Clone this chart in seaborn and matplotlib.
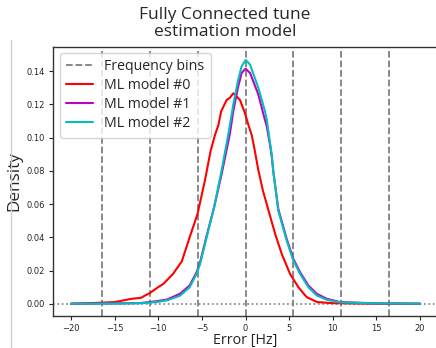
import numpy as np
import pandas as pd
import seaborn as sns
import matplotlib
matplotlib.use("Agg")
import matplotlib.pyplot as plt
from matplotlib.lines import Line2D

# ---- data ----
bin_edges = [-16.5, -11.0, -5.5, 0.0, 5.5, 11.0, 16.5]

x_m0 = [-20, -17, -15, -14, -13, -12, -11.5, -11, -10, -9.4, -8.3, -7.3, -6.4, -5.5,
        -4.64, -4.0, -3.5, -3.1, -2.8, -2.5, -2.16, -1.8, -1.4, -1.0, -0.63, -0.06,
        0.33, 0.71, 1.0, 1.47, 2.0, 2.43, 3.4, 4.15, 5.1, 6.05, 7.0, 8.2, 10, 13, 16, 20]
y_m0 = [0.0, 0.0005, 0.001, 0.002, 0.003, 0.0035, 0.005, 0.0063, 0.010, 0.012, 0.018,
        0.0255, 0.040, 0.054, 0.0745, 0.092, 0.1016, 0.1077, 0.1157, 0.119, 0.1227,
        0.124, 0.1267, 0.1247, 0.1227, 0.1147, 0.1077, 0.1016, 0.094, 0.0805, 0.068,
        0.060, 0.042, 0.030, 0.018, 0.010, 0.004, 0.001, 0.0003, 0.0001, 0.0, 0.0]

x_m1 = [-20, -15, -12, -10.2, -9, -7.5, -6.4, -5.6, -5.2, -4.45, -3.6, -2.7, -1.8, -1.4,
        -0.83, -0.44, 0.0, 0.52, 1.47, 2.16, 2.43, 2.8, 3.0, 3.2, 3.76, 4.72, 5.48,
        6.25, 7.2, 8.16, 9.3, 10.8, 15, 20]
y_m1 = [0.0, 0.0002, 0.0004, 0.0015, 0.0025, 0.006, 0.011, 0.019, 0.025, 0.041, 0.058,
        0.079, 0.102, 0.116, 0.131, 0.139, 0.1415, 0.139, 0.126, 0.112, 0.107, 0.096,
        0.089, 0.079, 0.057, 0.039, 0.027, 0.019, 0.011, 0.006, 0.003, 0.001, 0.0002, 0.0]

x_m2 = [-20, -15, -12, -10.2, -9, -7.5, -6.4, -5.6, -5.2, -4.45, -3.6, -2.73, -1.97,
        -1.4, -0.83, -0.44, 0.02, 0.52, 1.47, 2.23, 2.43, 3.0, 3.2, 3.4, 3.76, 4.72,
        5.48, 6.25, 7.2, 8.16, 9.3, 10.8, 15, 20]
y_m2 = [0.0, 0.0001, 0.0003, 0.001, 0.002, 0.0048, 0.0099, 0.018, 0.024, 0.040, 0.058,
        0.0805, 0.102, 0.120, 0.135, 0.143, 0.1468, 0.144, 0.130, 0.116, 0.111, 0.090,
        0.079, 0.071, 0.056, 0.038, 0.026, 0.018, 0.010, 0.005, 0.0024, 0.0008, 0.0002, 0.0]

model_names = ["ML model #0", "ML model #1", "ML model #2"]
model_colors = ["r", "m", "c"]
xticks = [-20, -15, -10, -5, 0, 5, 10, 15, 20]
yticks = [0.00, 0.02, 0.04, 0.06, 0.08, 0.10, 0.12, 0.14]

# ---- figure ----
sns.set_style("ticks")
plt.rcParams["font.family"] = ["DejaVu Sans"]
W, H = 436, 348
fig = plt.figure(figsize=(W / 100, H / 100), dpi=100)
ax = fig.add_axes([53 / W, (H - 316) / H, (438 - 53) / W, (316 - 47) / H])

for i, b in enumerate(bin_edges):
    ax.axvline(b, color="gray", ls="--", lw=1.3,
               label="Frequency bins" if i == 0 else None)
ax.axhline(0, color="gray", ls=":", lw=1.2)

for xs, ys, name, col in zip([x_m0, x_m1, x_m2], [y_m0, y_m1, y_m2],
                             model_names, model_colors):
    df = pd.DataFrame({"x": xs, "y": ys})
    sns.lineplot(data=df, x="x", y="y", color=col, lw=1.5, label=name,
                 ax=ax, estimator=None, sort=False)

ax.set_xlim(-22.06, 22.06)
ax.set_ylim(-0.0074, 0.1546)
ax.set_xticks(xticks)
ax.set_yticks(yticks)
ax.set_xticklabels([f"{t}".replace("-", "\u2212") for t in xticks])
ax.set_yticklabels([f"{t:.2f}" for t in yticks])
ax.tick_params(labelsize=6.0, length=3, width=0.8, pad=2.5)
for s in ax.spines.values():
    s.set_linewidth(1.0)
    s.set_color("#333333")

ax.set_xlabel("Error [Hz]", family="Open Sans", size=10.3, labelpad=0)
ax.set_ylabel("Density", family="Open Sans", size=12.3, labelpad=3)

handles, labels = ax.get_legend_handles_labels()
leg = ax.legend(handles, labels, loc="upper left",
                bbox_to_anchor=((60 - 53) / 385, (316 - 53) / 269),
                borderaxespad=0, prop={"family": "Open Sans", "size": 10.2},
                handlelength=1.9, handletextpad=0.75, labelspacing=0.28,
                borderpad=0.45, frameon=True)

fig.text(225 / W, 1 - 7 / H, "Fully Connected tune\nestimation model",
         ha="center", va="top", family="Open Sans", fontsize=12.5,
         linespacing=1.12)

fig.add_artist(Line2D([10.5 / W, 10.5 / W], [0, (H - 40) / H],
                      color="#d0d0d0", lw=1.0))

fig.savefig("out.png", dpi=100)
